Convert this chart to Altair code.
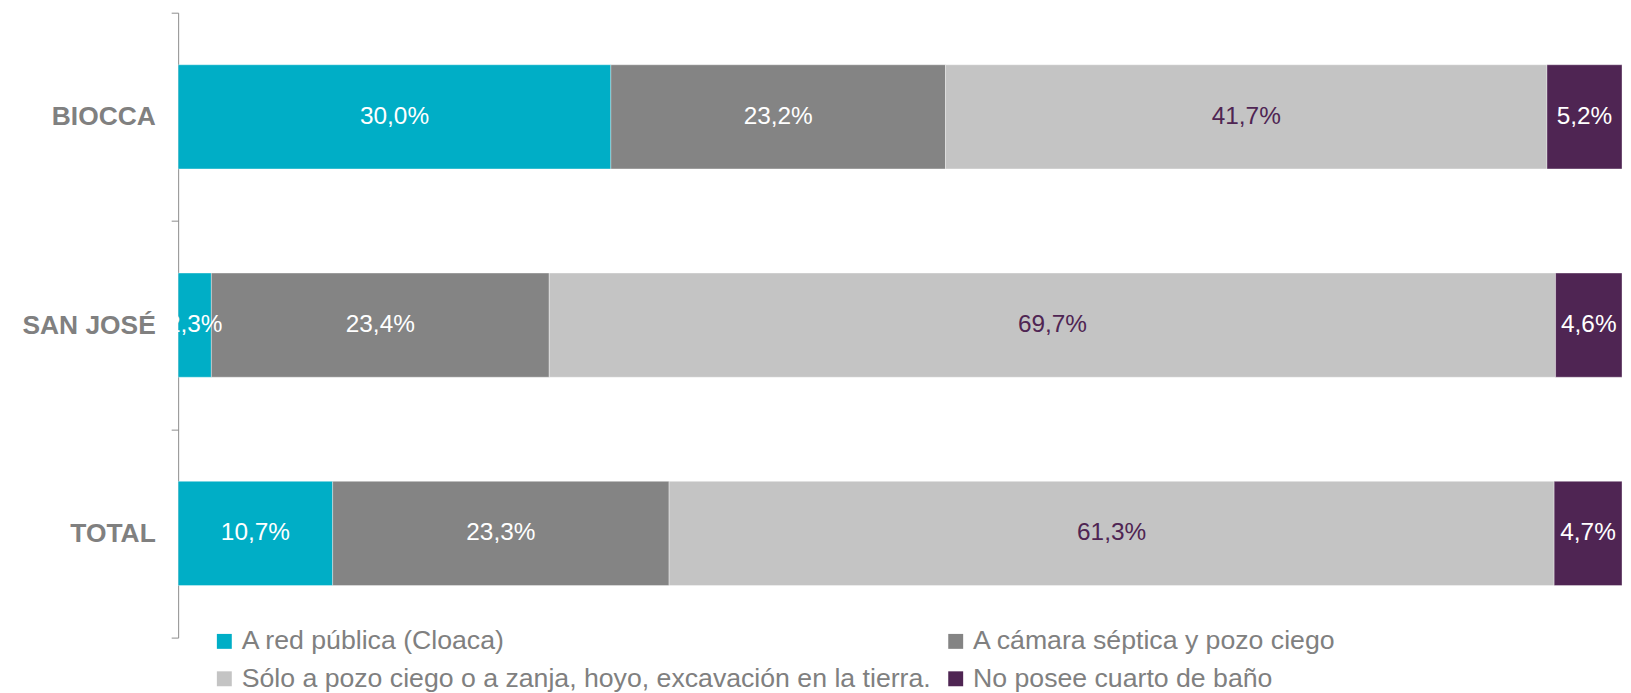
import altair as alt
import pandas as pd

categories = ["BIOCCA", "SAN JOSÉ", "TOTAL"]
series = [
    "A red pública (Cloaca)",
    "A cámara séptica y pozo ciego",
    "Sólo a pozo ciego o a zanja, hoyo, excavación en la tierra.",
    "No posee cuarto de baño",
]
red_publica = [30.0, 2.3, 10.7]
camara_septica = [23.2, 23.4, 23.3]
pozo_ciego = [41.7, 69.7, 61.3]
sin_bano = [5.2, 4.6, 4.7]

colors = ["#00AEC6", "#848484", "#C4C4C4", "#4F2553"]
label_colors = ["#FFFFFF", "#FFFFFF", "#4F2553", "#FFFFFF"]

values_by_series = [red_publica, camara_septica, pozo_ciego, sin_bano]
rows = []
for si, (name, vals) in enumerate(zip(series, values_by_series)):
    for ci, cat in enumerate(categories):
        rows.append({
            "cat": cat,
            "serie": name,
            "order": si,
            "value": vals[ci],
            "label": f"{vals[ci]:.1f}%".replace(".", ","),
            "lcolor": label_colors[si],
        })
df = pd.DataFrame(rows)

# legend is filled column by column: order entries so rows read like the reference
legend_order = [series[0], series[2], series[1], series[3]]
legend_colors = [colors[0], colors[2], colors[1], colors[3]]

FONT = "Liberation Sans"

base = alt.Chart(df).transform_stack(
    stack="value",
    groupby=["cat"],
    as_=["x0", "x1"],
    offset="normalize",
    sort=[alt.SortField("order", order="ascending")],
).transform_calculate(
    xm="(datum.x0 + datum.x1) / 2"
)

y_enc = alt.Y(
    "cat:N",
    sort=categories,
    title=None,
    scale=alt.Scale(paddingInner=0, paddingOuter=0),
    axis=alt.Axis(
        labelFont=FONT,
        labelFontSize=26.5,
        labelFontWeight="bold",
        labelColor="#808080",
        labelPadding=16,
        labelExpr="datum.label == 'SAN JOSÉ' ? 'SAN JOSÉ\u00a0' : datum.label",
        tickSize=7,
        tickColor="#8C8C8C",
        domainColor="#8C8C8C",
        tickWidth=1,
        domainWidth=1,
        tickBand="extent",
        grid=False,
    ),
)

x_scale = alt.Scale(domain=[0, 1], nice=False, zero=True)

bars = base.mark_bar(
    height=alt.RelativeBandSize(0.5),
    stroke="white", strokeWidth=0.7, strokeOpacity=0.5,
).encode(
    y=y_enc,
    x=alt.X("x0:Q", scale=x_scale, axis=None),
    x2="x1:Q",
    color=alt.Color(
        "serie:N",
        scale=alt.Scale(domain=legend_order, range=legend_colors),
        legend=alt.Legend(
            title=None,
            orient="none",
            legendX=33,
            legendY=618,
            columns=2,
            columnPadding=11,
            rowPadding=10,
            symbolType="square",
            symbolSize=225,
            symbolStrokeWidth=0,
            symbolOpacity=1,
            labelFont=FONT,
            labelFontSize=26.8,
            labelColor="#808080",
            labelOffset=4,
            labelLimit=2000,
        ),
    ),
)

texts = base.mark_text(font=FONT, fontSize=24.5, align="center", baseline="middle").encode(
    y=alt.Y("cat:N", sort=categories),
    x=alt.X("xm:Q", scale=x_scale),
    text="label:N",
    color=alt.Color("lcolor:N", scale=None),
)

chart = (bars + texts).properties(
    width=1451,
    height=628,
    autosize=alt.AutoSizeParams(type="none"),
    padding={"left": 171, "top": 3, "right": 1, "bottom": 62},
).configure_view(stroke=None).configure_axis(grid=False)

chart.save("out.html", embed_options={"renderer": "svg", "actions": False})
